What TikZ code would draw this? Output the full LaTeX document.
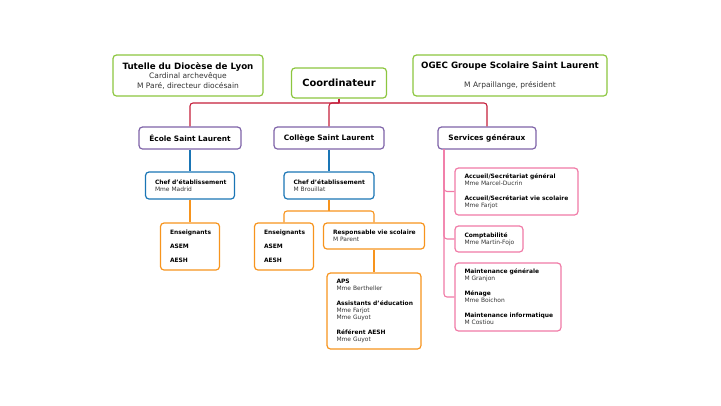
\documentclass[tikz,border=0pt]{standalone}
\usepackage{fontspec}
\setmainfont{DejaVu Sans}
\definecolor{cgreen}{HTML}{8CC63F}
\definecolor{cpurple}{HTML}{7E63A8}
\definecolor{cblue}{HTML}{1A75B5}
\definecolor{corange}{HTML}{F7941D}
\definecolor{cpink}{HTML}{F07AA6}
\definecolor{cred}{HTML}{C41E3A}
\definecolor{cgray}{HTML}{333333}
\newcommand\hdr[1]{\mbox{\bfseries #1}}
\newcommand\who[1]{\mbox{\color{cgray}#1}}
\begin{document}
\begin{tikzpicture}[x=1pt,y=-1pt,
  box/.style={draw, rounded corners=3.5pt, line width=1.2pt, inner sep=0pt, fill=white},
  cbox/.style={box, align=center},
  lbox/.style={box, align=left, inner xsep=9.5pt},
  small/.style={font=\fontsize{5.95}{7}\selectfont},
  conn/.style={line width=1.1pt, rounded corners=3pt}]
\useasboundingbox (0,0) rectangle (721,405);

% top level
\node[cbox, draw=cgreen, minimum width=150pt, minimum height=41pt,
  font=\fontsize{7.5}{9.5}\selectfont] (tut) at (188,75.5)
  {{\fontsize{8.7}{9.5}\selectfont\hdr{Tutelle du Diocèse de Lyon}}\\\who{Cardinal archevêque}\\\who{M Paré, directeur diocésain}};
\node[cbox, draw=cgreen, minimum width=95pt, minimum height=30pt,
  font=\fontsize{9.9}{11}\bfseries\selectfont] (coord) at (339,83) {Coordinateur};
\node[cbox, draw=cgreen, minimum width=194pt, minimum height=41pt,
  font=\fontsize{7.5}{9.5}\selectfont] (ogec) at (510,75.5)
  {{\fontsize{8.7}{9.5}\selectfont\hdr{OGEC Groupe Scolaire Saint Laurent}}\\[9.5pt]\who{M Arpaillange, président}};

% second level
\node[cbox, draw=cpurple, minimum width=102pt, minimum height=22pt,
  font=\fontsize{7.4}{8}\bfseries\selectfont] (ecole) at (190,138) {École Saint Laurent};
\node[cbox, draw=cpurple, minimum width=110pt, minimum height=22pt,
  font=\fontsize{7.4}{8}\bfseries\selectfont] (college) at (329,138) {Collège Saint Laurent};
\node[cbox, draw=cpurple, minimum width=98pt, minimum height=22pt,
  font=\fontsize{7.4}{8}\bfseries\selectfont] (serv) at (487,138) {Services généraux};

% chefs
\node[lbox, small, draw=cblue, text width=70pt, minimum height=27pt] (chef1) at (190,185.5)
  {\hdr{Chef d'établissement}\\\who{Mme Madrid}};
\node[lbox, small, draw=cblue, text width=71pt, minimum height=27pt] (chef2) at (329,185.5)
  {\hdr{Chef d'établissement}\\\who{M Brouillat}};

% orange level
\node[lbox, small, draw=corange, text width=40pt, minimum height=47pt] (ens1) at (190,246.5)
  {\hdr{Enseignants}\\[7pt]\hdr{ASEM}\\[7pt]\hdr{AESH}};
\node[lbox, small, draw=corange, text width=40pt, minimum height=47pt] (ens2) at (284,246.5)
  {\hdr{Enseignants}\\[7pt]\hdr{ASEM}\\[7pt]\hdr{AESH}};
\node[lbox, small, draw=corange, text width=82pt, minimum height=26pt] (resp) at (374,236)
  {\hdr{Responsable vie scolaire}\\\who{M Parent}};
\node[lbox, small, draw=corange, text width=75pt, minimum height=76pt] (aps) at (374,311)
  {\hdr{APS}\\\who{Mme Bertheller}\\[8pt]\hdr{Assistants d'éducation}\\\who{Mme Farjot}\\\who{Mme Guyot}\\[8pt]\hdr{Référent AESH}\\\who{Mme Guyot}};

% pink level
\node[lbox, small, draw=cpink, text width=104pt, minimum height=47pt] (acc) at (516.5,191.5)
  {\hdr{Accueil/Secrétariat général}\\\who{Mme Marcel-Ducrin}\\[8pt]\hdr{Accueil/Secrétariat vie scolaire}\\\who{Mme Farjot}};
\node[lbox, small, draw=cpink, text width=49pt, minimum height=26pt] (compta) at (489,239)
  {\hdr{Comptabilité}\\\who{Mme Martin-Fojo}};
\node[lbox, small, draw=cpink, text width=87pt, minimum height=68pt] (maint) at (508,297)
  {\hdr{Maintenance générale}\\\who{M Granjon}\\[8pt]\hdr{Ménage}\\\who{Mme Boichon}\\[8pt]\hdr{Maintenance informatique}\\\who{M Costiou}};

% connectors
\coordinate (j1) at (339,103);
\coordinate (j2) at (329,211);
\coordinate (sv) at (444,149);
\draw[conn, cred] (coord.south) -- (j1);
\draw[conn, cred] (j1) -| (ecole.north);
\draw[conn, cred] (j1) -| (college.north);
\draw[conn, cred] (j1) -| (serv.north);
\draw[conn, cblue] (ecole.south) -- (chef1.north);
\draw[conn, cblue] (college.south) -- (chef2.north);
\draw[conn, corange] (chef1.south) -- (ens1.north);
\draw[conn, corange] (chef2.south) -- (j2);
\draw[conn, corange] (j2) -| (ens2.north);
\draw[conn, corange] (j2) -| (resp.north);
\draw[conn, corange] (resp.south) -- (aps.north);
\draw[conn, cpink] (sv) |- (acc.west);
\draw[conn, cpink] (sv) |- (compta.west);
\draw[conn, cpink] (sv) |- (maint.west);
\end{tikzpicture}
\end{document}
